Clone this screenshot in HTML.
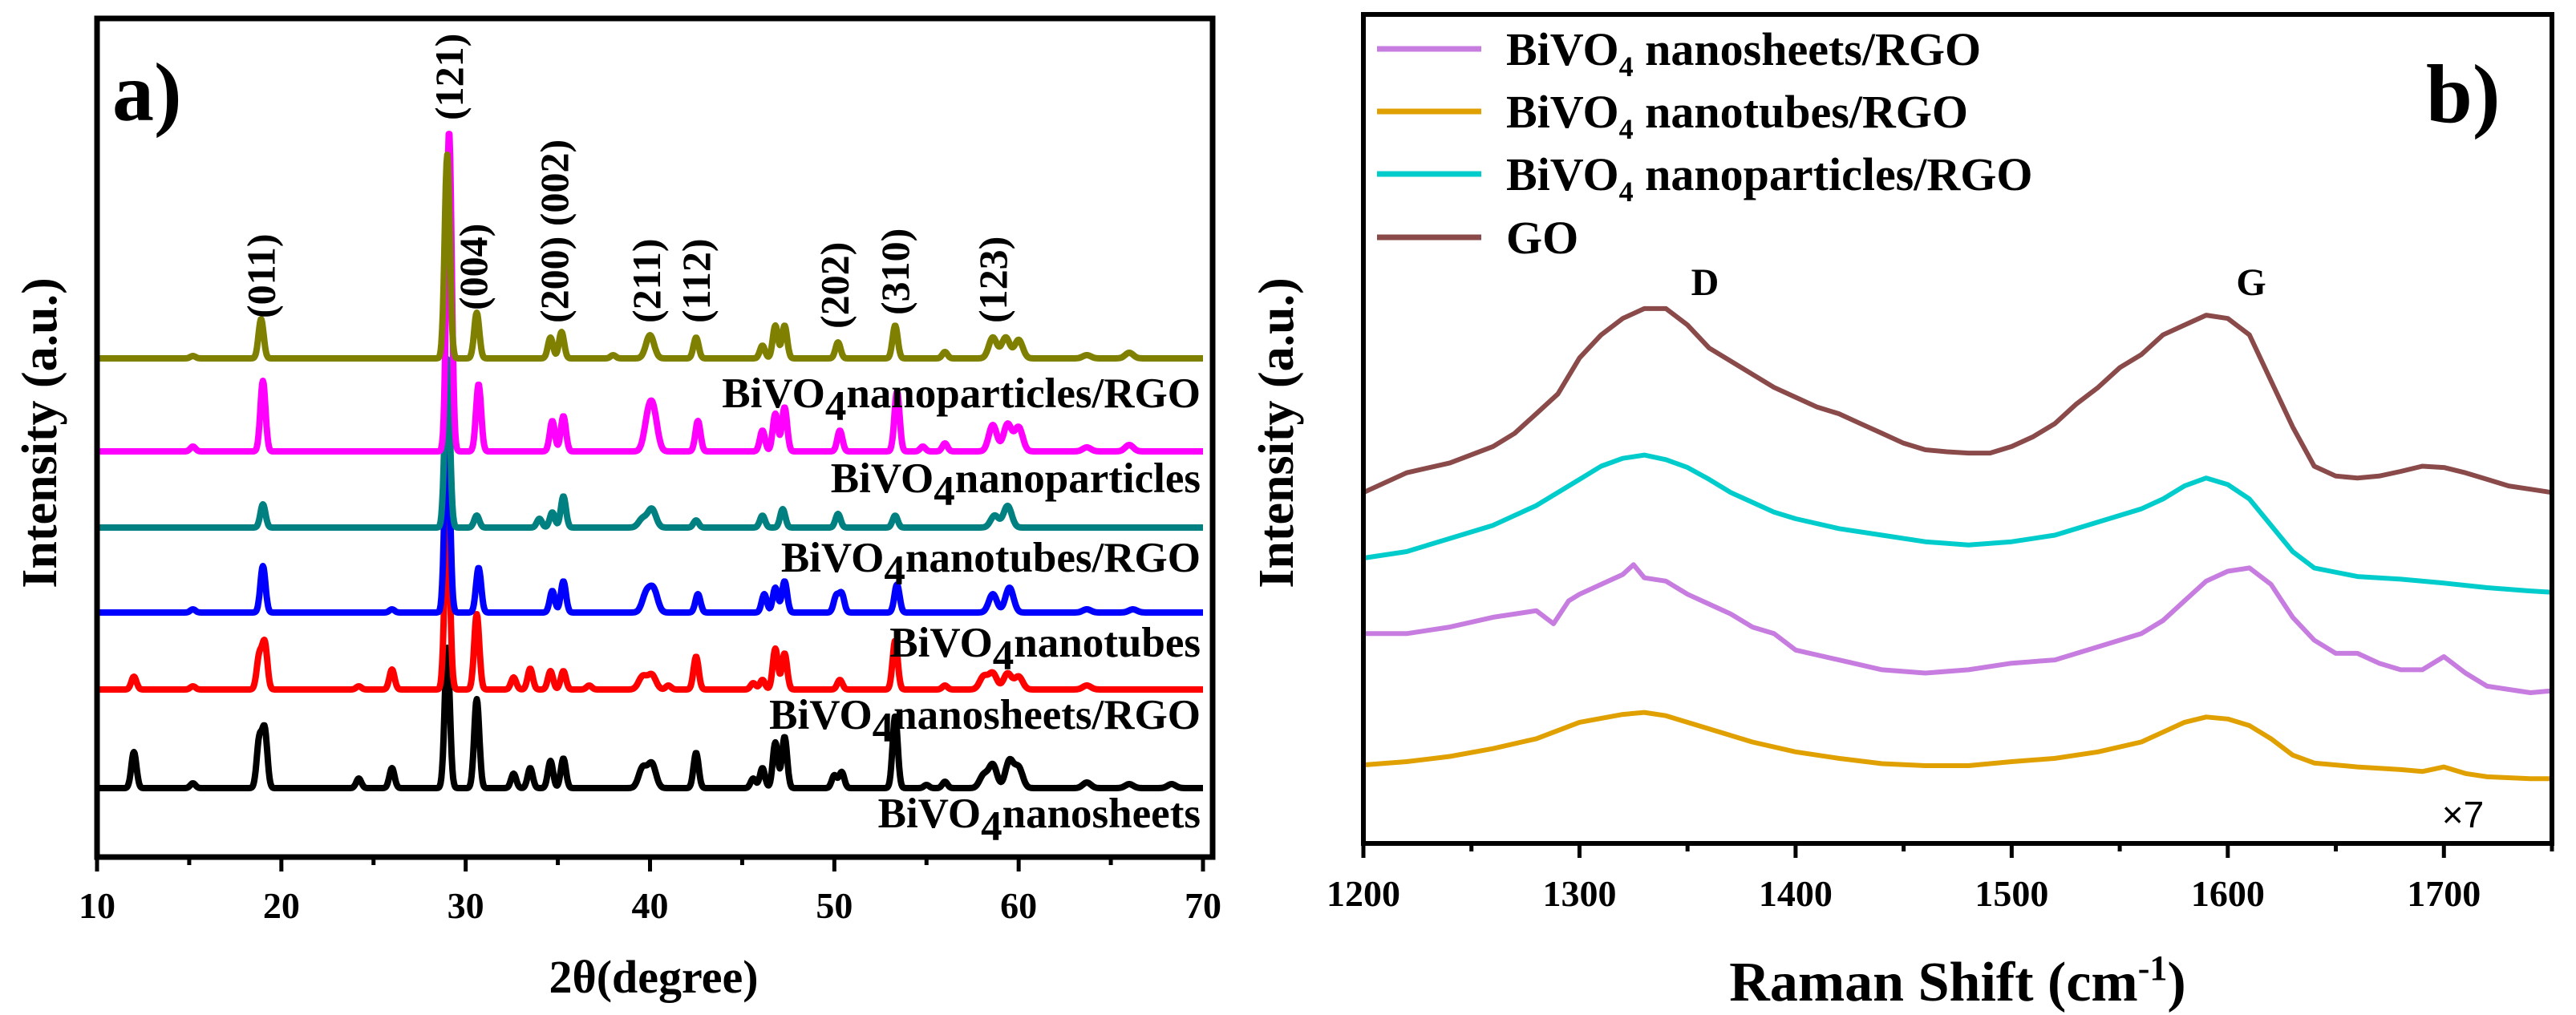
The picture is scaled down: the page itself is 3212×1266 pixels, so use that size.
<!DOCTYPE html>
<html><head><meta charset="utf-8">
<style>
html,body{margin:0;padding:0;background:#fff;}
svg{display:block;}
text{font-family:"Liberation Serif",serif;font-weight:bold;fill:#000;}
</style></head>
<body>
<svg id="fig" width="3212" height="1266" viewBox="0 0 3212 1266" xmlns="http://www.w3.org/2000/svg">
<g id="pa"></g>
<g id="pb"></g>
</svg>
<script>
// ---------- Panel a data (XRD) ----------
const xrdNames = ["BiVO4nanosheets","BiVO4nanosheets/RGO","BiVO4nanotubes","BiVO4nanotubes/RGO","BiVO4nanoparticles","BiVO4nanoparticles/RGO"];
const xrdColors = ["#000000","#ff0000","#0000ff","#008080","#ff00ff","#808000"];
const xrdOffsets = [0, 123, 219, 325, 420, 536];
const blackPos = [12,15.2,18.8,19.1,24.2,26,29.0,30.6,32.6,33.5,34.6,35.3,39.6,40.1,42.5,45.6,46.1,46.8,47.3,50.0,50.4,53.3,55.0,56,58.1,58.6,59.5,60,63.7,66,68.3];
const blackH   = [45,6,59,71,12,25,175,111,18,25,34,37,25,30,44,12,25,57,64,16,20,90,4,8,16,29,34,25,7,5,5];
const redPos = [12,15.2,18.8,19.1,24.2,26,29.0,30.6,32.6,33.5,34.6,35.3,36.7,39.6,40.1,41,42.5,45.6,46.1,46.8,47.3,50.3,53.3,56,58.1,58.6,59.4,60,63.7];
const redH   = [16,4,41,57,4,25,230,94,15,26,23,23,5,16,18,5,41,8,12,51,45,12,61,5,16,20,20,16,5];
const bluePos = [15.2,19.0,26,29.0,30.7,34.7,35.3,39.8,40.2,42.6,46.2,46.8,47.3,50.1,50.4,53.4,58.6,59.5,63.7,66.2];
const blueH   = [4,58,4,250,56,27,39,23,27,23,23,31,39,20,23,35,23,31,4,4];
const tealPos = [19.0,29.0,30.6,34.0,34.7,35.3,39.6,40.1,42.5,46.1,47.2,50.2,53.3,58.7,59.4];
const tealH   = [29,210,15,11,19,39,11,23,9,15,23,17,15,15,27];
const magPos = [15.2,19.0,29.1,30.7,34.7,35.3,39.9,40.2,42.6,46.1,46.8,47.3,50.3,53.4,54.8,56,58.6,59.4,60,63.7,66];
const magH   = [6,88,400,84,38,44,38,42,38,26,47,55,26,75,6,10,33,34,30,5,8];
const olivePos = [15.2,18.9,29.0,30.6,34.6,35.2,38,40,42.5,46.1,46.8,47.3,50.2,53.3,56,58.6,59.3,60,63.7,66];
const oliveH   = [3,49,254,57,26,33,4,29,26,16,41,41,20,41,8,26,26,23,4,7];
const xrdPeaks = [[blackPos,blackH],[redPos,redH],[bluePos,blueH],[tealPos,tealH],[magPos,magH],[olivePos,oliveH]];
const xrdTicks = [10,20,30,40,50,60,70];
const hklLabels = ["(011)","(121)","(004)","(200) (002)","(211)","(112)","(202)","(310)","(123)"];
const hklPos = [18.9,29.1,30.4,34.8,39.8,42.5,50.0,53.3,58.6];
const hklBottom = [397,150,387,403,403,403,410,393,403];

// ---------- Panel b data (Raman) ----------
const ramanNames = ["BiVO4 nanosheets/RGO","BiVO4 nanotubes/RGO","BiVO4 nanoparticles/RGO","GO"];
const ramanColors = ["#c77ce0","#e0a000","#00cccc","#8b4a4a"];
const goX = [1200,1220,1240,1260,1270,1280,1290,1300,1310,1320,1330,1340,1350,1360,1370,1380,1390,1400,1410,1420,1430,1440,1450,1460,1470,1480,1490,1500,1510,1520,1530,1540,1550,1560,1570,1580,1590,1600,1610,1620,1630,1640,1650,1660,1670,1680,1690,1700,1710,1720,1730,1740,1750];
const goY = [550,580,595,620,640,670,700,755,790,815,830,830,805,770,750,730,710,695,680,670,655,640,625,615,612,610,610,620,635,655,685,710,740,760,790,805,820,815,790,720,650,590,575,572,575,582,590,588,580,570,560,555,550];
const cyX = [1200,1220,1240,1260,1280,1300,1310,1320,1330,1340,1350,1360,1370,1380,1390,1400,1420,1440,1460,1480,1500,1520,1540,1560,1570,1580,1590,1600,1610,1620,1630,1640,1660,1680,1700,1720,1740,1750];
const cyY = [450,460,480,500,530,570,590,602,607,600,588,570,550,535,520,510,495,485,475,470,475,485,505,525,540,560,572,562,540,500,460,435,422,418,412,405,400,398];
const puX = [1200,1220,1240,1260,1280,1288,1295,1300,1310,1320,1325,1330,1340,1350,1360,1370,1380,1390,1400,1420,1440,1460,1480,1500,1520,1540,1560,1570,1580,1590,1600,1610,1620,1630,1640,1650,1660,1670,1680,1690,1700,1710,1720,1740,1750];
const puY = [335,335,345,360,370,350,385,395,410,425,440,420,415,395,380,365,345,335,310,295,280,275,280,290,295,315,335,355,385,415,430,435,410,360,325,305,305,290,280,280,300,275,255,245,248];
const orX = [1200,1220,1240,1260,1280,1300,1320,1330,1340,1360,1380,1400,1420,1440,1460,1480,1500,1520,1540,1560,1570,1580,1590,1600,1610,1620,1630,1640,1660,1680,1690,1700,1710,1720,1740,1750];
const orY = [135,140,148,160,175,200,212,215,210,190,170,155,145,137,134,134,140,145,155,170,185,200,208,205,195,175,150,138,132,128,125,132,122,117,114,114];
const ramanSeries = [[puX,puY],[orX,orY],[cyX,cyY],[goX,goY]];
const ramanTicks = [1200,1300,1400,1500,1600,1700];

const NS = "http://www.w3.org/2000/svg";
function mk(tag, attrs, parent){const e=document.createElementNS(NS,tag);for(const k in attrs)e.setAttribute(k,attrs[k]);parent.appendChild(e);return e;}

// ---------- Draw panel a ----------
const pa = document.getElementById('pa');
const aL=121,aR=1512,aT=23,aB=1069;
const ax = d => 121 + (d-10)*(1500-121)/60;
const aBase = 983;
const ay = (off,v) => aBase - off - v;
for(let s=0;s<6;s++){
  const [pos,h]=xrdPeaks[s];
  let d="";
  for(let t=10;t<=70.0001;t+=0.04){
    let v=0;
    for(let i=0;i<pos.length;i++){
      const w = (pos[i]>39&&pos[i]<41)||pos[i]>57 ? 0.22 : 0.14;
      const z=(t-pos[i])/w; v+=h[i]*Math.exp(-0.5*z*z);
    }
    d+=(d?"L":"M")+ax(t).toFixed(1)+","+ay(xrdOffsets[s],v).toFixed(1);
  }
  const p=mk('path',{d:d,fill:'none',stroke:xrdColors[s],'stroke-width':8,'stroke-linejoin':'round'},pa);
  
  
}
const fa=mk('rect',{x:aL,y:aT,width:aR-aL,height:aB-aT,fill:'none',stroke:'#000','stroke-width':7},pa);


for(let t=10;t<=70;t+=5){
  const major=(t%10===0);
  const tk=mk('line',{x1:ax(t),x2:ax(t),y1:aB,y2:aB+(major?18:10),stroke:'#000','stroke-width':5},pa);
  
  
}
xrdTicks.forEach(t=>{
  const tl=mk('text',{x:ax(t),y:1145,'font-size':46,'text-anchor':'middle'},pa);tl.textContent=t;
  
  
});
hklLabels.forEach((l,i)=>{
  const x=ax(hklPos[i])+17, y=hklBottom[i];
  const tl=mk('text',{x:x,y:y,'font-size':50,transform:`rotate(-90 ${x} ${y})`},pa);tl.textContent=l;
  
  
});
const labBase=[1032,909,819,713,614,508];
xrdNames.forEach((n,i)=>{
  const parts=n.split('4');
  const tl=mk('text',{x:1497,y:labBase[i],'font-size':53,'text-anchor':'end'},pa);
  const t1=mk('tspan',{},tl);t1.textContent=parts[0];
  const t2=mk('tspan',{dy:16},tl);t2.textContent='4';
  const t3=mk('tspan',{dy:-16},tl);t3.textContent=parts[1];
  
  
});
{
const t=mk('text',{x:815,y:1238,'font-size':58,'text-anchor':'middle'},pa);t.textContent='2θ(degree)';


const y=mk('text',{x:70,y:540,'font-size':62,'text-anchor':'middle',transform:'rotate(-90 70 540)'},pa);y.textContent='Intensity (a.u.)';


const a=mk('text',{x:140,y:150,'font-size':104},pa);a.textContent='a)';


}

// ---------- Draw panel b ----------
const pb=document.getElementById('pb');
const bL=1700,bR=3182,bT=18,bB=1052;
const bx = c => 1700 + (c-1200)*(bR-bL)/550;
const by = v => (1300 - v)*0.819;
ramanSeries.forEach((s,i)=>{
  const [xs,ys]=s;
  let d="";
  xs.forEach((c,j)=>{d+=(j?"L":"M")+bx(c).toFixed(1)+","+by(ys[j]).toFixed(1);});
  const p=mk('path',{d:d,fill:'none',stroke:ramanColors[i],'stroke-width':6,'stroke-linejoin':'round'},pb);
  
  
});
const fb=mk('rect',{x:bL,y:bT,width:bR-bL,height:bB-bT,fill:'none',stroke:'#000','stroke-width':6},pb);


for(let c=1200;c<=1750;c+=50){
  const major=(c%100===0);
  const tk=mk('line',{x1:bx(c),x2:bx(c),y1:bB,y2:bB+(major?18:10),stroke:'#000','stroke-width':5},pb);
  
  
}
ramanTicks.forEach(c=>{
  const tl=mk('text',{x:bx(c),y:1130,'font-size':46,'text-anchor':'middle'},pb);tl.textContent=c;
  
  
});
const legY=[61,139,217,296];
ramanNames.forEach((n,i)=>{
  const ln=mk('line',{x1:1717,x2:1847,y1:legY[i],y2:legY[i],stroke:ramanColors[i],'stroke-width':7},pb);
  
  
  const tl=mk('text',{x:1878,y:legY[i]+20,'font-size':58},pb);
  if(n.indexOf('4')>=0){
    const parts=n.split('4');
    const a=mk('tspan',{},tl);a.textContent=parts[0];
    const b=mk('tspan',{dy:14,'font-size':36},tl);b.textContent='4';
    const c=mk('tspan',{dy:-14},tl);c.textContent=parts[1];
  } else tl.textContent=n;
  
  
});
{
const b=mk('text',{x:3025,y:152,'font-size':104},pb);b.textContent='b)';


const D=mk('text',{x:2126,y:368,'font-size':48,'text-anchor':'middle'},pb);D.textContent='D';


const G=mk('text',{x:2807,y:368,'font-size':48,'text-anchor':'middle'},pb);G.textContent='G';


const m=mk('text',{x:3071,y:1032,'font-size':46,'text-anchor':'middle',style:'font-family:"Liberation Sans",sans-serif;font-weight:normal'},pb);m.textContent='×7';


const xt=mk('text',{x:2441,y:1248,'font-size':70,'text-anchor':'middle'},pb);
const x1=mk('tspan',{},xt);x1.textContent='Raman Shift (cm';
const x2=mk('tspan',{dy:-26,'font-size':44},xt);x2.textContent='-1';
const x3=mk('tspan',{dy:26},xt);x3.textContent=')';


const yt=mk('text',{x:1612,y:540,'font-size':62,'text-anchor':'middle',transform:'rotate(-90 1612 540)'},pb);yt.textContent='Intensity (a.u.)';


}
</script>
</body></html>
